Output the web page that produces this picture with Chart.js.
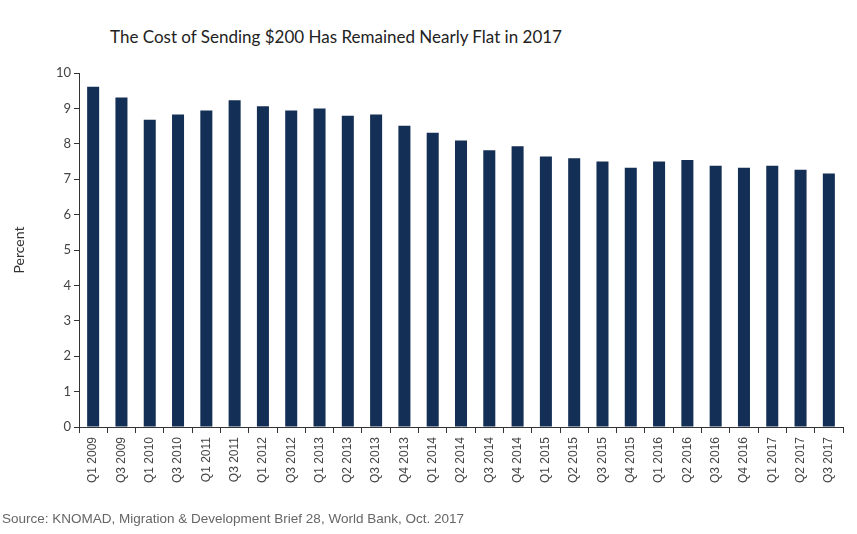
<!DOCTYPE html>
<html>
<head>
<meta charset="utf-8">
<script src="https://cdn.jsdelivr.net/npm/chart.js@4/dist/chart.umd.min.js"></script>
<style>
  html, body { margin: 0; padding: 0; background: #fff; }
  #wrap { position: relative; width: 857px; height: 534px; overflow: hidden; }
  #chart { position: absolute; left: 0; top: 0; }
  #title {
    position: absolute; left: 110px; top: 26px;
    font-family: Lato, sans-serif; font-size: 17px; color: #222; white-space: nowrap;
  }
  #source {
    position: absolute; left: 2px; top: 511px;
    font-family: "Liberation Sans", Arial, sans-serif; font-size: 13.5px; color: #666; white-space: nowrap;
  }
</style>
</head>
<body>
<div id="wrap">
  <div id="title">The Cost of Sending $200 Has Remained Nearly Flat in 2017</div>
  <canvas id="chart" width="857" height="534"></canvas>
  <div id="source">Source: KNOMAD, Migration &amp; Development Brief 28, World Bank, Oct. 2017</div>
</div>
<script>
// quarters on the x axis
const quarters = [
  "Q1 2009", "Q3 2009", "Q1 2010", "Q3 2010", "Q1 2011", "Q3 2011",
  "Q1 2012", "Q3 2012", "Q1 2013", "Q2 2013", "Q3 2013", "Q4 2013",
  "Q1 2014", "Q2 2014", "Q3 2014", "Q4 2014", "Q1 2015", "Q2 2015",
  "Q3 2015", "Q4 2015", "Q1 2016", "Q2 2016", "Q3 2016", "Q4 2016",
  "Q1 2017", "Q2 2017", "Q3 2017"
];

// average cost of sending $200, percent
const costPercent = [
  9.61, 9.31, 8.68, 8.83, 8.94, 9.23,
  9.06, 8.94, 9.00, 8.79, 8.83, 8.51,
  8.31, 8.09, 7.82, 7.93, 7.64, 7.59,
  7.50, 7.32, 7.50, 7.54, 7.38, 7.32,
  7.38, 7.27, 7.16
];

const yTicks = [0, 1, 2, 3, 4, 5, 6, 7, 8, 9, 10];

const barColor = '#142f55';
const axisColor = '#333';

new Chart(document.getElementById('chart'), {
  type: 'bar',
  data: {
    labels: quarters,
    datasets: [{
      label: 'Percent',
      data: costPercent,
      backgroundColor: barColor,
      borderWidth: 0,
      barPercentage: 0.85,
      categoryPercentage: 0.5
    }]
  },
  options: {
    responsive: false,
    animation: false,
    layout: { padding: { top: 73, right: 14, bottom: 27, left: 0 } },
    plugins: {
      legend: { display: false },
      tooltip: { enabled: false }
    },
    scales: {
      x: {
        grid: { drawOnChartArea: false, drawTicks: true, tickLength: 6, color: axisColor, offset: true },
        border: { color: axisColor, width: 1 },
        ticks: {
          color: '#444',
          font: { family: '"Liberation Sans", Arial, sans-serif', size: 12 },
          minRotation: 90,
          maxRotation: 90,
          autoSkip: false,
          padding: 4
        },
        afterFit: scale => { scale.height = 80; }
      },
      y: {
        min: 0,
        max: 10,
        afterBuildTicks: scale => { scale.ticks = yTicks.map(v => ({ value: v })); },
        grid: { drawOnChartArea: false, drawTicks: true, tickLength: 5, color: axisColor },
        border: { color: axisColor, width: 1 },
        ticks: {
          color: '#444',
          font: { family: 'Lato, sans-serif', size: 13 },
          padding: 3
        },
        title: {
          display: true,
          text: 'Percent',
          color: '#333',
          font: { family: 'Lato, sans-serif', size: 14 },
          padding: { top: 11, bottom: 0 }
        },
        afterFit: scale => { scale.width = 79; }
      }
    }
  }
});
</script>
</body>
</html>
